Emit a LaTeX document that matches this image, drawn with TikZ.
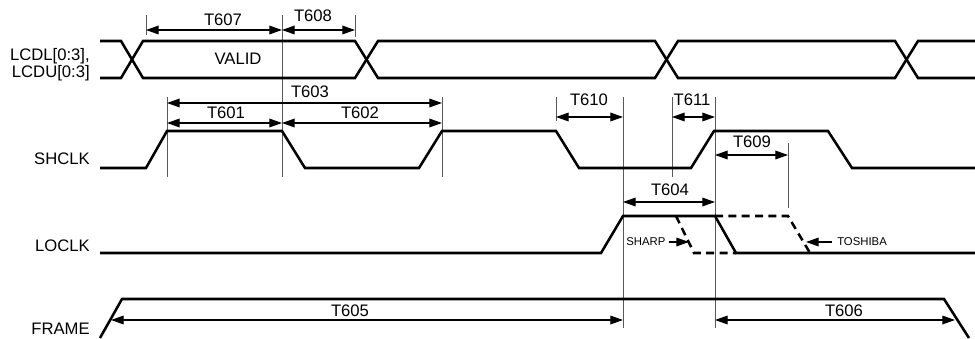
\documentclass[tikz,border=0pt]{standalone}
\usepackage{fontspec}
\setmainfont{Liberation Sans}
\usetikzlibrary{arrows.meta}
\begin{document}
\begin{tikzpicture}[x=0.75pt,y=-0.75pt,
  sig/.style={line width=1.9pt},
  dsh/.style={sig, dash pattern=on 6pt off 4pt},
  dim/.style={line width=0.9pt, {Triangle[length=9.5pt,width=6.5pt]}-{Triangle[length=9.5pt,width=6.5pt]}},
  ptr/.style={line width=0.9pt, -{Triangle[length=9.5pt,width=6.5pt]}},
  ext/.style={line width=0.7pt, black!65},
  lbl/.style={font=\fontsize{12.5}{14}\selectfont, inner sep=0pt},
  sml/.style={font=\fontsize{8.5}{10}\selectfont, inner sep=0pt}]
\useasboundingbox (0,0) rectangle (975,339);

% extension lines
\draw[ext] (146,15) -- (146,35);
\draw[ext] (282,15) -- (282,177);
\draw[ext] (355,15) -- (355,37);
\draw[ext] (167,97) -- (167,177);
\draw[ext] (442,97) -- (442,177);
\draw[ext] (556,97) -- (556,121);
\draw[ext] (623,97) -- (623,328);
\draw[ext] (672,97) -- (672,177);
\draw[ext] (715,97) -- (715,328);
\draw[ext] (788,143) -- (788,208);

% bus
\draw[sig] (100,41) -- (121,41) -- (143,78) -- (355,78) -- (378,41) -- (655,41) -- (678,78) -- (895,78) -- (918,41) -- (975,41);
\draw[sig] (100,78) -- (121,78) -- (143,41) -- (355,41) -- (378,78) -- (655,78) -- (678,41) -- (895,41) -- (918,78) -- (975,78);

% SHCLK
\draw[sig] (100,168) -- (146,168) -- (167,131) -- (282,131) -- (305,168) -- (419,168) -- (442,131) -- (556,131) -- (579,168) -- (691,168) -- (714,131) -- (828,131) -- (852,168) -- (975,168);

% LOCLK
\draw[sig] (100,253) -- (601,253) -- (623,216) -- (715,216) -- (736,253) -- (975,253);
\draw[dsh] (676,216) -- (694,253) -- (736,253);
\draw[dsh] (715,216) -- (788,216) -- (810,253);

% FRAME
\draw[sig] (100,338) -- (122,299) -- (944,299) -- (969,338);

% dimension coordinates
\coordinate (a146) at (146,30); \coordinate (a282) at (282,30); \coordinate (a355) at (355,30);
\coordinate (b167) at (167,103); \coordinate (b442) at (442,103);
\coordinate (c167) at (167,123); \coordinate (c282) at (282,123); \coordinate (c442) at (442,123);
\coordinate (d556) at (556,117); \coordinate (d623) at (623,117);
\coordinate (d672) at (672,117); \coordinate (d715) at (715,117);
\coordinate (e623) at (623,202); \coordinate (e715) at (715,202);
\coordinate (f715) at (715,155); \coordinate (f788) at (788,155);
\coordinate (g112) at (111,320); \coordinate (g623) at (623,320);
\coordinate (g715) at (715,320); \coordinate (g955) at (955,320);

\draw[dim] (a146) -- (a282);
\draw[dim] (a282) -- (a355);
\draw[dim] (b167) -- (b442);
\draw[dim] (c167) -- (c282);
\draw[dim] (c282) -- (c442);
\draw[dim] (d556) -- (d623);
\draw[dim] (d672) -- (d715);
\draw[dim] (e623) -- (e715);
\draw[dim] (f715) -- (f788);
\draw[dim] (g112) -- (g623);
\draw[dim] (g715) -- (g955);

% labels
\node[lbl] (t607) at (223,20) {T607};
\node[lbl] (t608) at (313,16) {T608};
\node[lbl] (t603) at (310,92) {T603};
\node[lbl] (t601) at (226,113) {T601};
\node[lbl] (t602) at (360,113) {T602};
\node[lbl] (t610) at (589,100) {T610};
\node[lbl] (t611) at (692,100) {T611};
\node[lbl] (t604) at (670,190) {T604};
\node[lbl] (t609) at (752,142) {T609};
\node[lbl] (t605) at (350,311) {T605};
\node[lbl] (t606) at (844,311) {T606};
\node[lbl] (valid) at (238,59) {VALID};

\node[lbl, anchor=east, align=right, font=\fontsize{12.5}{10.5}\selectfont] (lcd) at (90,65) {LCDL[0:3],\\LCDU[0:3]};
\node[lbl, anchor=east] (shclk) at (90,159) {SHCLK};
\node[lbl, anchor=east] (loclk) at (90,246) {LOCLK};
\node[lbl, anchor=east] (frame) at (90,329) {FRAME};

% SHARP / TOSHIBA
\node[sml, anchor=west] (sharp) at (626,242) {SHARP};
\coordinate (sharptip) at (689,242);
\draw[ptr] (sharp.east) ++(3,0) -- (sharptip);
\node[sml, anchor=west] (toshiba) at (837,242) {TOSHIBA};
\coordinate (toshtip) at (806,242);
\draw[ptr] (toshiba.west) ++(-5,0) -- (toshtip);
\end{tikzpicture}
\end{document}
